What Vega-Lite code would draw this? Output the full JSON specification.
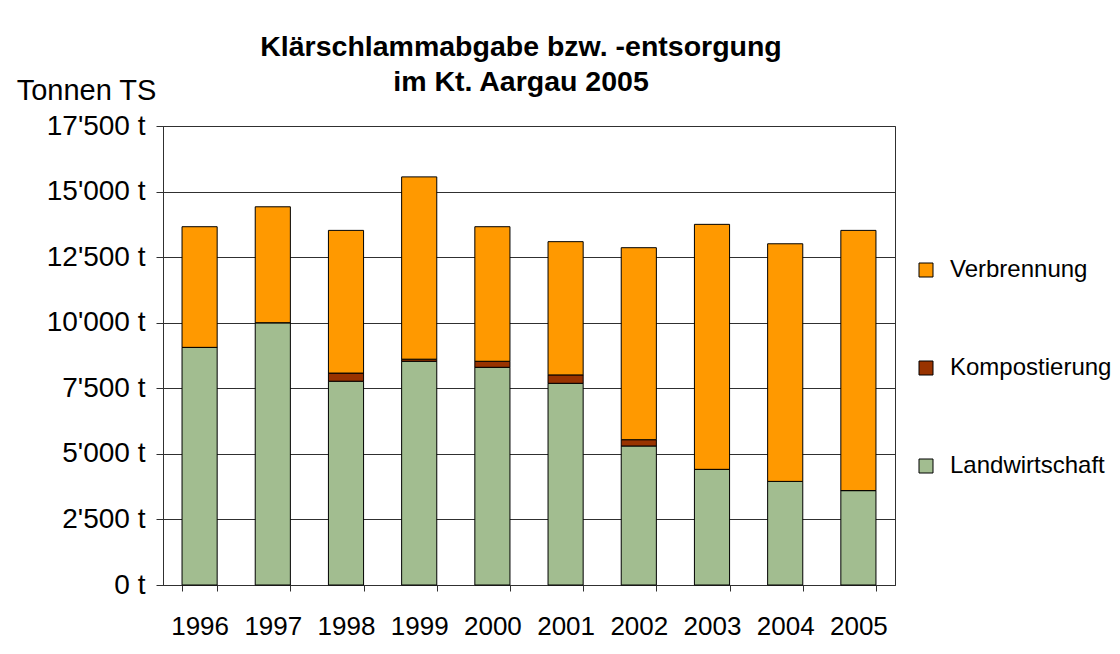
{
  "$schema": "https://vega.github.io/schema/vega-lite/v6.json",
  "width": 732,
  "height": 459,
  "autosize": {"type": "none"},
  "padding": {"left": 163, "top": 126, "right": 225, "bottom": 69},
  "background": "white",
  "title": {
    "text": ["Klärschlammabgabe bzw. -entsorgung", "im Kt. Aargau 2005"],
    "font": "Liberation Sans",
    "fontSize": 28.5,
    "fontWeight": "bold",
    "lineHeight": 35,
    "anchor": "middle",
    "offset": 0,
    "dy": 20,
    "dx": -8,
    "color": "black"
  },
  "data": {
    "values": [
      {"jahr": "1996", "typ": "Landwirtschaft", "t": 9060},
      {"jahr": "1996", "typ": "Kompostierung", "t": 0},
      {"jahr": "1996", "typ": "Verbrennung", "t": 4600},
      {"jahr": "1997", "typ": "Landwirtschaft", "t": 10000},
      {"jahr": "1997", "typ": "Kompostierung", "t": 0},
      {"jahr": "1997", "typ": "Verbrennung", "t": 4420},
      {"jahr": "1998", "typ": "Landwirtschaft", "t": 7770},
      {"jahr": "1998", "typ": "Kompostierung", "t": 310},
      {"jahr": "1998", "typ": "Verbrennung", "t": 5440},
      {"jahr": "1999", "typ": "Landwirtschaft", "t": 8530},
      {"jahr": "1999", "typ": "Kompostierung", "t": 80},
      {"jahr": "1999", "typ": "Verbrennung", "t": 6950},
      {"jahr": "2000", "typ": "Landwirtschaft", "t": 8300},
      {"jahr": "2000", "typ": "Kompostierung", "t": 230},
      {"jahr": "2000", "typ": "Verbrennung", "t": 5130},
      {"jahr": "2001", "typ": "Landwirtschaft", "t": 7690},
      {"jahr": "2001", "typ": "Kompostierung", "t": 320},
      {"jahr": "2001", "typ": "Verbrennung", "t": 5080},
      {"jahr": "2002", "typ": "Landwirtschaft", "t": 5300},
      {"jahr": "2002", "typ": "Kompostierung", "t": 240},
      {"jahr": "2002", "typ": "Verbrennung", "t": 7320},
      {"jahr": "2003", "typ": "Landwirtschaft", "t": 4410},
      {"jahr": "2003", "typ": "Kompostierung", "t": 0},
      {"jahr": "2003", "typ": "Verbrennung", "t": 9340},
      {"jahr": "2004", "typ": "Landwirtschaft", "t": 3950},
      {"jahr": "2004", "typ": "Kompostierung", "t": 0},
      {"jahr": "2004", "typ": "Verbrennung", "t": 9060},
      {"jahr": "2005", "typ": "Landwirtschaft", "t": 3600},
      {"jahr": "2005", "typ": "Kompostierung", "t": 0},
      {"jahr": "2005", "typ": "Verbrennung", "t": 9920}
    ]
  },
  "transform": [
    {"calculate": "indexof(['Landwirtschaft','Kompostierung','Verbrennung'], datum.typ)", "as": "ord"}
  ],
  "mark": {"type": "bar", "stroke": "black", "strokeWidth": 1},
  "encoding": {
    "x": {
      "field": "jahr",
      "type": "ordinal",
      "scale": {"paddingInner": 0.52, "paddingOuter": 0.26},
      "axis": {
        "title": null,
        "labelAngle": 0,
        "labelFontSize": 26,
        "labelColor": "black",
        "tickBand": "extent",
        "tickSize": 6,
        "labelPadding": 22,
        "domainColor": "#303030",
        "tickColor": "#303030"
      }
    },
    "y": {
      "field": "t",
      "type": "quantitative",
      "stack": "zero",
      "scale": {"domain": [0, 17500], "nice": false},
      "axis": {
        "values": [0, 2500, 5000, 7500, 10000, 12500, 15000, 17500],
        "labelExpr": "replace(format(datum.value, ','), ',', \"'\") + ' t'",
        "grid": true,
        "gridColor": "#303030",
        "gridWidth": 1,
        "tickColor": "#303030",
        "tickSize": 7,
        "domainColor": "#303030",
        "labelFontSize": 28,
        "labelColor": "black",
        "labelPadding": 11,
        "title": "Tonnen TS",
        "titleAngle": 0,
        "titleX": -77,
        "titleY": -36,
        "titleAlign": "center",
        "titleBaseline": "middle",
        "titleFontSize": 29,
        "titleFontWeight": "normal",
        "titleColor": "black"
      }
    },
    "color": {
      "field": "typ",
      "type": "nominal",
      "scale": {
        "domain": ["Verbrennung", "Kompostierung", "Landwirtschaft"],
        "range": ["#FF9900", "#993300", "#A2BD90"]
      },
      "legend": {
        "title": null,
        "orient": "none",
        "legendX": 751,
        "legendY": 132,
        "symbolType": "square",
        "symbolSize": 196,
        "symbolStrokeColor": "black",
        "symbolStrokeWidth": 1,
        "symbolOpacity": 1,
        "labelFontSize": 24,
        "labelColor": "black",
        "labelLimit": 300,
        "rowPadding": 74,
        "labelOffset": 12
      }
    },
    "order": {"field": "ord", "type": "quantitative"}
  },
  "config": {
    "font": "Liberation Sans",
    "view": {"stroke": "#303030"}
  }
}
